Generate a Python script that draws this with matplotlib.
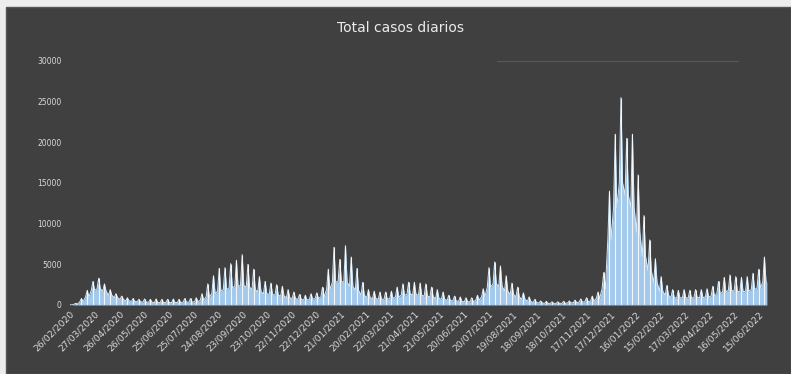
import matplotlib
matplotlib.use("Agg")
import matplotlib.pyplot as plt
from matplotlib.patches import Rectangle
import numpy as np
import pandas as pd

# weekly report dates (first day of each week) and daily cases
start = pd.Timestamp("2020-02-26")
week_dates = pd.date_range(start, periods=122, freq="7D")

# weekly peak (highest day of the week)
peak_cases = [
    50, 200, 800, 1800, 2900, 3300, 2600, 1900, 1400, 1100,
    900, 800, 700, 750, 700, 750, 700, 700, 750, 700,
    800, 800, 900, 1400, 2600, 3600, 4500, 4600, 5100, 5500,
    6200, 5000, 4400, 3500, 2900, 2700, 2500, 2300, 1900, 1600,
    1300, 1200, 1400, 1500, 2200, 4400, 7100, 5600, 7300, 5900,
    4500, 2800, 1900, 1700, 1600, 1600, 1700, 2200, 2600, 2800,
    2800, 2700, 2600, 2200, 1900, 1600, 1200, 1100, 1000, 900,
    900, 1200, 2000, 4600, 5300, 4800, 3600, 2700, 2200, 1500,
    1000, 700, 500, 450, 400, 400, 450, 500, 600, 750,
    900, 1100, 1600, 4000, 14000, 21000, 25500, 20500, 21000, 16000,
    11000, 8000, 5700, 3500, 2400, 1900, 1800, 1900, 1800, 1900,
    1900, 2000, 2300, 2900, 3400, 3700, 3500, 3400, 3500, 3900,
    4400, 5900,
]

# weekly base level (rest of the week)
base_cases = [
    0, 100, 400, 1000, 1800, 2000, 1700, 1200, 900, 700,
    500, 450, 400, 350, 350, 300, 300, 300, 300, 300,
    350, 350, 400, 600, 1000, 1400, 1700, 1900, 2100, 2300,
    2400, 2200, 1900, 1600, 1400, 1300, 1200, 1100, 900, 800,
    700, 600, 700, 800, 1000, 1900, 2800, 2900, 2800, 2300,
    1800, 1200, 900, 800, 700, 700, 800, 1000, 1200, 1300,
    1300, 1200, 1100, 1000, 800, 700, 550, 500, 450, 400,
    400, 600, 1000, 2200, 2600, 2300, 1700, 1300, 1000, 700,
    450, 300, 250, 200, 200, 200, 200, 250, 300, 350,
    400, 500, 800, 2000, 8000, 12000, 15000, 13500, 12000, 9000,
    6000, 4200, 2800, 1700, 1200, 900, 850, 900, 850, 900,
    900, 1000, 1100, 1400, 1600, 1800, 1700, 1600, 1700, 1900,
    2100, 2800,
]

y_ticks = [0, 5000, 10000, 15000, 20000, 25000, 30000]
tick_dates = pd.date_range(start, periods=29, freq="30D")
tick_labels = [d.strftime("%d/%m/%Y") for d in tick_dates]

BG = "#404040"
TXT = "#d9d9d9"
FILL = "#a3c9ec"

fig = plt.figure(figsize=(7.91, 3.74), dpi=100)
fig.patch.set_facecolor("#ededed")
fig.patches.append(
    Rectangle((0.008, 0.0), 0.992, 0.98, transform=fig.transFigure,
              facecolor=BG, edgecolor="#555555", linewidth=1.0, zorder=-10)
)

ax = fig.add_axes([0.0885, 0.1845, 0.881, 0.6525])
ax.set_facecolor(BG)

# each week drawn as a narrow spike on top of the base level
half = pd.Timedelta(days=2)
xs, ys = [], []
for d, p, b in zip(week_dates, peak_cases, base_cases):
    xs += [d - half, d, d + half]
    ys += [b, p, b]
xs.append(week_dates[-1] + pd.Timedelta(days=3))
ys.append(base_cases[-1])

ax.fill_between(xs, ys, 0, color=FILL, linewidth=0, zorder=2)
ax.plot(xs, ys, color="#d6e8f7", linewidth=0.7, zorder=3)
ax.vlines(week_dates, 0, peak_cases, color="white", linewidth=0.8,
          alpha=0.85, zorder=4)

ax.axhline(30000, xmin=0.613, xmax=0.958, color="#5a5a5a", linewidth=0.8)
ax.axhline(0, color="#8a8a8a", linewidth=0.8, zorder=5)

ax.set_xlim(start, xs[-1])
ax.set_ylim(0, 30000)
ax.set_yticks(y_ticks)
ax.set_yticklabels([str(v) for v in y_ticks], color=TXT, fontsize=5.5)
ax.set_xticks(tick_dates)
ax.set_xticklabels(tick_labels, rotation=45, ha="right", color=TXT,
                   fontsize=6.6, rotation_mode="anchor")
ax.tick_params(axis="both", length=0, pad=3)
ax.tick_params(axis="y", pad=6)
for s in ax.spines.values():
    s.set_visible(False)

fig.text(0.506, 0.925, "Total casos diarios", color="#ebebeb",
         fontsize=10, ha="center", va="center")

fig.savefig("out.png", dpi=100, facecolor=fig.get_facecolor())
